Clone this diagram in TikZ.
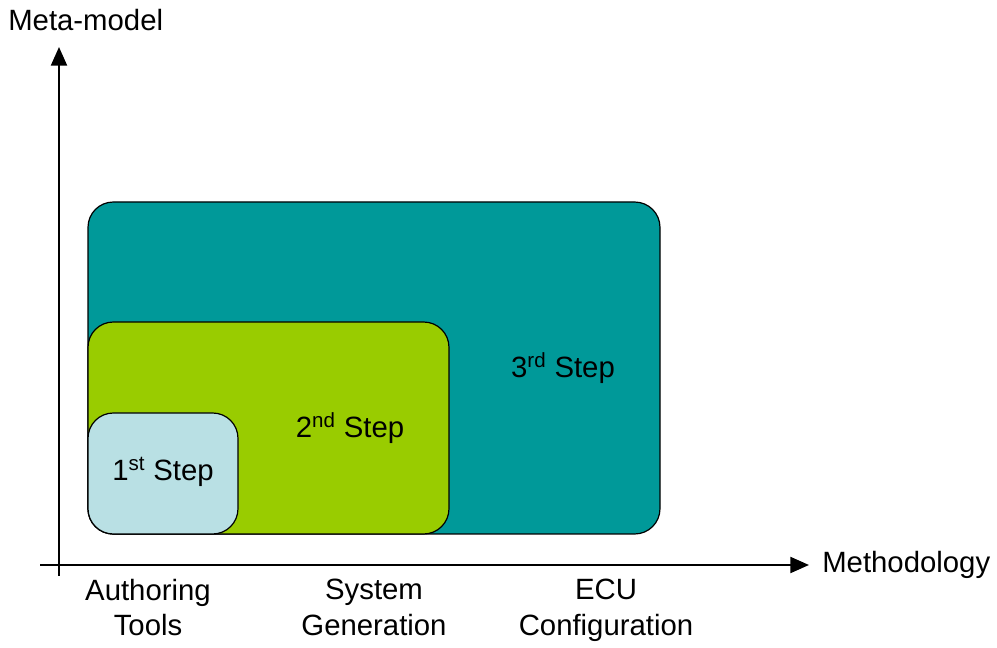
\documentclass[tikz,border=0pt]{standalone}
\usepackage{fontspec}
\setmainfont{Liberation Sans}
\usetikzlibrary{arrows.meta}
\definecolor{stepteal}{RGB}{0,153,153}
\definecolor{stepgreen}{RGB}{153,204,0}
\definecolor{steplight}{RGB}{185,224,228}
\begin{document}
\begin{tikzpicture}[
        x=0.75pt, y=-0.75pt,
        font=\fontsize{22}{26.5}\selectfont,
        step box/.style={draw=black, line width=0.9pt, rounded corners=19pt},
        axis/.style={line width=1.5pt, -{Triangle[length=14pt, width=12pt]}},
        caption/.style={align=center, inner sep=0pt},
    ]
    \useasboundingbox (0,0) rectangle (997,648);

    % Drei geschachtelte Schritte
    \draw[step box, fill=stepteal] (88,202) rectangle (660,534);
    \draw[step box, fill=stepgreen] (88,322) rectangle (449,534);
    \draw[step box, fill=steplight] (88,413) rectangle (238,534);

    \node[caption] (step3) at (563,368) {3\textsuperscript{rd} Step};
    \node[caption] (step2) at (350,428) {2\textsuperscript{nd} Step};
    \node[caption] (step1) at (163,472) {1\textsuperscript{st} Step};

    % Achsen
    \coordinate (yfoot) at (59,576);
    \coordinate (ytip) at (59,47);
    \coordinate (xfoot) at (40,565);
    \coordinate (xtip) at (809,565);
    \draw[axis] (yfoot) -- (ytip);
    \draw[axis] (xfoot) -- (xtip);

    \node[caption, anchor=west] (ylabel) at (8,20) {Meta-model};
    \node[caption, anchor=west] (xlabel) at (822,565) {Methodology};

    % Beschriftung der Phasen
    \foreach \px/\name/\txt in {148/auth/{Authoring\\Tools}, 374/sysgen/{System\\Generation}, 606/ecu/{ECU\\Configuration}} {
        \node[caption, anchor=north, text depth=0pt] (\name) at (\px,579) {\txt};
    }
\end{tikzpicture}
\end{document}
